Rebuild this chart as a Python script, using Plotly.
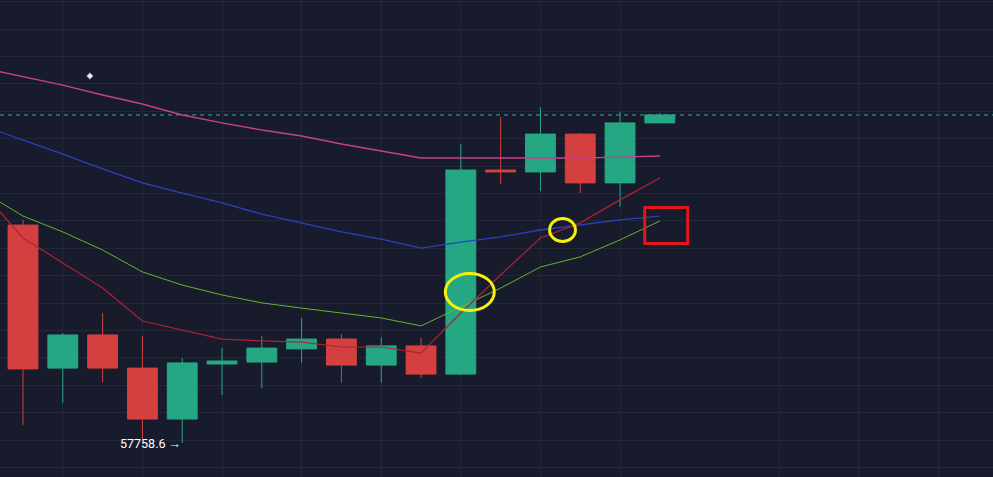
import plotly.graph_objects as go

# ---- data (BTC candles, index = bar number) ----
bars = list(range(17))
opens  = [58554, 58032, 58153, 58032, 57846, 58047, 58054, 58102, 58138, 58043, 58113, 58010, 58755, 58748, 58886, 58708, 58927]
highs  = [58573, 58160, 58233, 58149, 58069, 58105, 58149, 58215, 58156, 58146, 58142, 58850, 58948, 58985, 58890, 58967, 58963]
lows   = [57824, 57905, 57981, 57770, 57758.6, 57934, 57959, 58051, 57978, 57978, 57996, 58007, 58704, 58678, 58671, 58620, 58927]
closes = [58029, 58153, 58032, 57846, 58051, 58058, 58105, 58138, 58043, 58113, 58010, 58755, 58748, 58886, 58708, 58927, 58956]

ma_bars = list(range(-1, 17))
ma_fast   = [58671, 58507, 58416, 58324, 58204, 58171, 58138, 58131, 58127, 58109, 58109, 58087, 58233, 58372, 58507, 58562, 58646, 58726]
ma_mid    = [58675, 58587, 58529, 58463, 58383, 58335, 58299, 58270, 58251, 58233, 58215, 58186, 58255, 58324, 58401, 58438, 58500, 58569]
ma_slow   = [58916, 58865, 58813, 58759, 58708, 58671, 58635, 58594, 58562, 58529, 58503, 58470, 58492, 58511, 58536, 58554, 58573, 58587]
ma_long   = [59127, 59095, 59065, 59029, 58996, 58956, 58927, 58901, 58879, 58850, 58824, 58799, 58799, 58799, 58799, 58799, 58802, 58806]

low_label = "57758.6 →"
low_label_value = 57758.6

# annotation marks (x in bar units, y in price)
ellipse_big = (10.61, 11.84, 58242.2, 58377.3)
ellipse_small = (13.23, 13.88, 58494.1, 58578.0)
red_box = (15.62, 16.70, 58486.8, 58618.2)
cursor_pt = (1.68, 59098)

# ---- styling ----
BG = "#171b2c"
GRID = "#222838"
UP = "#26a784"
DOWN = "#d4403f"

fig = go.Figure()

fig.add_trace(go.Candlestick(
    x=bars, open=opens, high=highs, low=lows, close=closes,
    increasing=dict(line=dict(color=UP, width=1), fillcolor=UP),
    decreasing=dict(line=dict(color=DOWN, width=1), fillcolor=DOWN),
    whiskerwidth=0, hoverinfo="skip", showlegend=False,
))

for vals, col, w in [(ma_long, "#c83f8c", 1.4), (ma_slow, "#2d3fbf", 1.3),
                     (ma_mid, "#66b52c", 1.0), (ma_fast, "#b02039", 1.2)]:
    fig.add_trace(go.Scatter(x=ma_bars, y=vals, mode="lines",
                             line=dict(color=col, width=w),
                             hoverinfo="skip", showlegend=False))

fig.add_trace(go.Scatter(x=[cursor_pt[0]], y=[cursor_pt[1]], mode="markers",
                         marker=dict(symbol="diamond", size=5, color="#e8e8f0",
                                     line=dict(color="#9aa0c0", width=0.5)),
                         hoverinfo="skip", showlegend=False))

# last price dashed line
fig.add_shape(type="line", xref="paper", x0=0, x1=1, yref="y",
              y0=closes[-1], y1=closes[-1],
              line=dict(color="#2fa8a0", width=1, dash="4px,4px"), layer="below")

for (x0, x1, y0, y1) in [ellipse_big, ellipse_small]:
    fig.add_shape(type="circle", x0=x0, x1=x1, y0=y0, y1=y1,
                  line=dict(color="#f2f20a", width=3))
fig.add_shape(type="rect", x0=red_box[0], x1=red_box[1], y0=red_box[2], y1=red_box[3],
              line=dict(color="#e3161b", width=3))

fig.add_annotation(x=4.02, y=low_label_value, text=low_label, showarrow=False,
                   xanchor="right", yanchor="middle",
                   font=dict(color="#ffffff", size=12.5, family="Roboto, Arial"))

fig.update_layout(
    width=993, height=477, margin=dict(l=0, r=0, t=0, b=0),
    paper_bgcolor=BG, plot_bgcolor=BG, boxgap=0.25, boxgroupgap=0,
    showlegend=False, dragmode=False,
    xaxis=dict(range=[-0.578, 24.37], showticklabels=False, zeroline=False,
               showgrid=True, gridcolor=GRID, gridwidth=1,
               tickmode="array", tickvals=[1, 3, 5, 7, 9, 11, 13, 15, 19, 21, 23],
               rangeslider=dict(visible=False), fixedrange=True),
    yaxis=dict(range=[57634.5, 59375.55], showticklabels=False, zeroline=False,
               showgrid=True, gridcolor=GRID, gridwidth=1,
               tick0=57769.55, dtick=100, fixedrange=True),
)

fig.write_html("out.html", config={"displayModeBar": False},
               post_script="document.body.style.margin='0';document.body.style.overflow='hidden';document.body.style.background='%s';" % BG)
